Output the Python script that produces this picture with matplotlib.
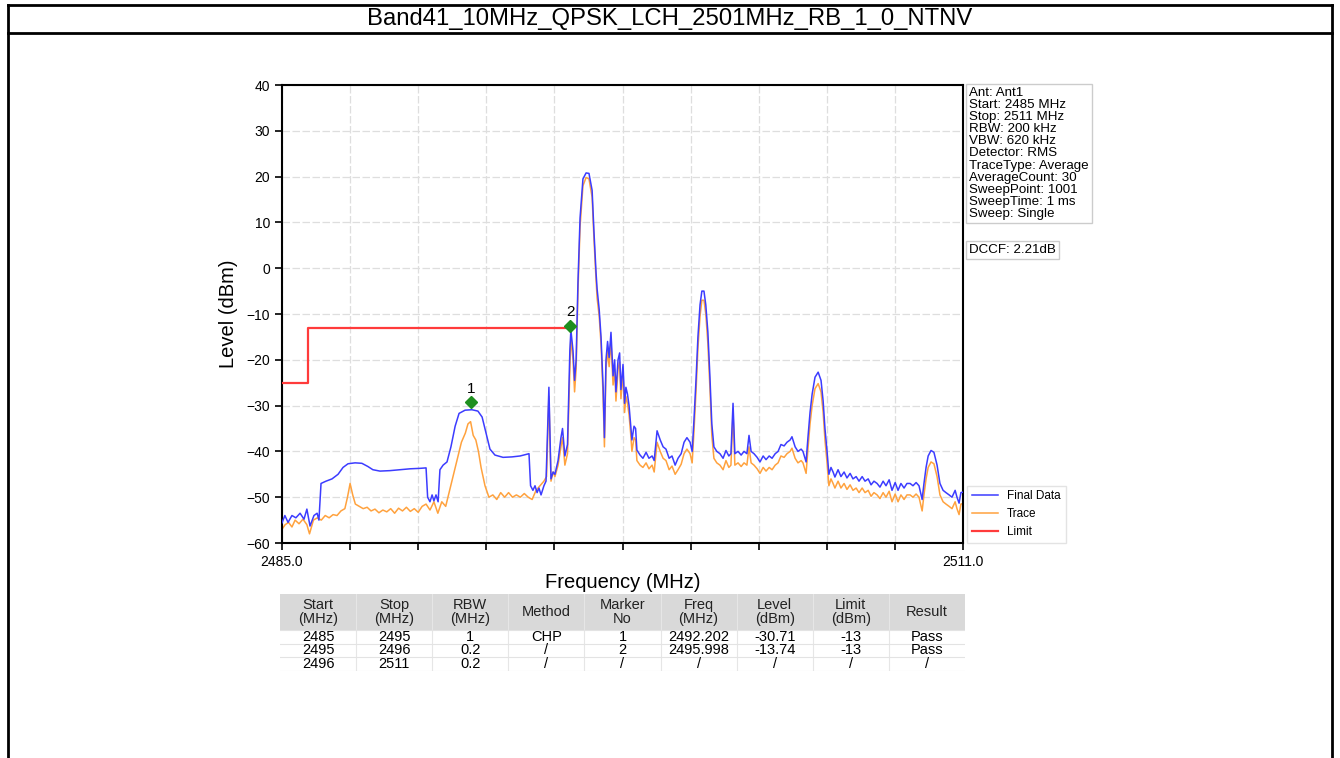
import numpy as np
import matplotlib
matplotlib.use("Agg")
import matplotlib.pyplot as plt
from matplotlib.lines import Line2D
from matplotlib.patches import Rectangle

plt.rcParams['font.family'] = ['Liberation Sans', 'DejaVu Sans']

title = "Band41_10MHz_QPSK_LCH_2501MHz_RB_1_0_NTNV"

# sweep data (MHz, dBm)
final_left_freq = [
    2485.00, 2485.11, 2485.23, 2485.38, 2485.53, 2485.69, 2485.84, 2485.95, 2486.07, 2486.22,
    2486.34, 2486.41, 2486.49, 2486.68, 2486.91, 2487.14, 2487.33, 2487.52, 2487.79, 2488.05,
    2488.28, 2488.47, 2488.74, 2489.12, 2489.51, 2489.89, 2490.27, 2490.50, 2490.56, 2490.65,
    2490.73, 2490.80, 2490.88, 2490.96, 2491.03, 2491.15, 2491.30, 2491.45, 2491.61, 2491.76,
    2491.99, 2492.25, 2492.48, 2492.64, 2492.79, 2492.94, 2493.13, 2493.44, 2493.78, 2494.09,
    2494.35, 2494.43, 2494.49, 2494.58, 2494.66, 2494.74, 2494.81, 2494.89, 2495.00, 2495.08,
    2495.19]
final_left_level = [
    -55.6, -54, -55.5, -54, -54.5, -53.5, -54.8, -52.6, -56.3, -54,
    -53.5, -55, -47, -46.5, -46, -45, -43.5, -42.7, -42.5, -42.6,
    -43.3, -44, -44.3, -44.2, -44.0, -43.8, -43.7, -43.6, -50, -51,
    -49.5, -50.8, -49.5, -51, -44, -43, -42.3, -39, -34.5, -31.7,
    -31, -30.9, -31.2, -32.5, -36, -39.5, -40.8, -41.3, -41.2, -41,
    -40.6, -40.5, -47.5, -48.5, -47.5, -49, -48, -49.5, -47.5, -46.5,
    -26]

trace_left_freq = [
    2485.00, 2485.12, 2485.25, 2485.38, 2485.50, 2485.65, 2485.80, 2485.95, 2486.05, 2486.20,
    2486.35, 2486.50, 2486.65, 2486.80, 2486.95, 2487.10, 2487.25, 2487.40, 2487.50, 2487.60,
    2487.70, 2487.80, 2487.95, 2488.10, 2488.25, 2488.40, 2488.55, 2488.70, 2488.85, 2489.00,
    2489.15, 2489.30, 2489.45, 2489.60, 2489.75, 2489.90, 2490.05, 2490.20, 2490.35, 2490.50,
    2490.65, 2490.80, 2490.95, 2491.10, 2491.25, 2491.40, 2491.55, 2491.70, 2491.85, 2492.00,
    2492.10, 2492.20, 2492.30, 2492.40, 2492.50, 2492.60, 2492.75, 2492.90, 2493.05, 2493.20,
    2493.35, 2493.50, 2493.65, 2493.80, 2493.95, 2494.10, 2494.25, 2494.40, 2494.55, 2494.70,
    2494.85, 2495.00, 2495.10, 2495.19]
trace_left_level = [
    -57, -56, -55.5, -56.5, -55, -55.8, -54.8, -56, -58, -55,
    -54.5, -55, -54, -54.5, -53.8, -54, -53, -52.5, -50, -47,
    -49.5, -51.5, -52, -52.5, -52.2, -53, -52.6, -53.4, -52.8, -53.2,
    -52.5, -53.5, -52.4, -53, -52.2, -53.1, -52.5, -53.3, -52, -51.5,
    -52.8, -51, -53.5, -51, -52, -48.5, -45, -41.5, -38, -36,
    -34, -33.5, -36.5, -37.5, -40, -43.5, -47.5, -50, -49.5, -50.5,
    -49, -50, -49, -50, -49.5, -50, -49.2, -50, -50.5, -48.5,
    -47.5, -46.5, -45.5, -28]

# both traces share these sweep points above 2495.2 MHz
right_freq = [
    2495.27, 2495.35, 2495.42, 2495.54, 2495.65, 2495.71, 2495.80, 2495.90, 2495.99, 2496.03,
    2496.11, 2496.17, 2496.23, 2496.30, 2496.38, 2496.49, 2496.61, 2496.72, 2496.84, 2496.91,
    2496.99, 2497.03, 2497.11, 2497.18, 2497.26, 2497.31, 2497.37, 2497.43, 2497.49, 2497.56,
    2497.64, 2497.70, 2497.75, 2497.83, 2497.89, 2497.94, 2498.02, 2498.08, 2498.13, 2498.19,
    2498.25, 2498.31, 2498.36, 2498.44, 2498.50, 2498.55, 2498.67, 2498.78, 2498.90, 2499.01,
    2499.13, 2499.21, 2499.32, 2499.44, 2499.55, 2499.66, 2499.78, 2499.89, 2500.01, 2500.12,
    2500.24, 2500.35, 2500.46, 2500.58, 2500.66, 2500.73, 2500.81, 2500.88, 2500.96, 2501.03,
    2501.11, 2501.18, 2501.26, 2501.34, 2501.41, 2501.49, 2501.60, 2501.72, 2501.84, 2501.95,
    2502.06, 2502.14, 2502.22, 2502.29, 2502.41, 2502.53, 2502.64, 2502.75, 2502.83, 2502.91,
    2503.02, 2503.14, 2503.25, 2503.37, 2503.48, 2503.60, 2503.71, 2503.83, 2503.94, 2504.05,
    2504.17, 2504.28, 2504.40, 2504.47, 2504.59, 2504.70, 2504.82, 2504.89, 2505.01, 2505.08,
    2505.16, 2505.24, 2505.35, 2505.47, 2505.58, 2505.66, 2505.73, 2505.81, 2505.88, 2505.96,
    2506.04, 2506.11, 2506.23, 2506.34, 2506.46, 2506.57, 2506.69, 2506.80, 2506.92, 2507.03,
    2507.15, 2507.26, 2507.38, 2507.49, 2507.60, 2507.72, 2507.83, 2507.95, 2508.06, 2508.18,
    2508.29, 2508.41, 2508.52, 2508.63, 2508.75, 2508.86, 2508.98, 2509.09, 2509.21, 2509.32,
    2509.44, 2509.51, 2509.59, 2509.67, 2509.78, 2509.89, 2510.01, 2510.12, 2510.24, 2510.35,
    2510.47, 2510.58, 2510.70, 2510.77, 2510.85, 2510.92, 2511.00]
final_right_level = [
    -46, -44.5, -45, -42, -37, -35, -41, -38.5, -18, -13.5,
    -18, -24.5, -20, -3, 11, 19.5, 20.8, 20.7, 17, 8,
    -1, -4.5, -9, -15, -26, -37, -20, -16, -19.5, -14,
    -23.5, -20, -27, -20, -18.5, -26.5, -21, -29.5, -26, -27.5,
    -30, -34, -37.5, -34.5, -35, -39.7, -40.8, -41.5, -40.2, -41.5,
    -41, -42, -35.5, -37.5, -39, -39.5, -41.5, -41, -43, -41.5,
    -40.5, -38, -37, -38, -40, -33, -24, -15, -8, -5,
    -5, -8, -14, -24, -34, -39, -40, -40.5, -41.5, -39.8,
    -41, -40.5, -29.5, -40.5, -40, -40.8, -40, -40.5, -36.5, -40,
    -40.5, -41.3, -42.3, -41, -41.8, -41, -41.5, -40.5, -40, -38.5,
    -38.8, -38, -37.5, -36.8, -39, -40, -39.5, -40, -42.3, -37,
    -31.5, -27.5, -23.8, -22.7, -24.5, -29, -35, -40, -45, -43.5,
    -44.5, -45.6, -44, -45.5, -44.5, -45.8, -44.8, -46, -45.5, -46.5,
    -45.5, -46.5, -46, -47.3, -46.5, -47, -47.8, -46.5, -47.5, -46.2,
    -48.5, -46.8, -48.5, -47, -48, -47, -47, -47.5, -46.8, -47.5,
    -50.5, -47, -43.5, -41, -39.8, -40.2, -43, -47, -48.5, -49,
    -49.5, -50, -48.5, -50, -51.3, -49, -48.9]
trace_right_level = [
    -46.5, -44.5, -45.5, -43, -39, -37, -43, -40.5, -22, -15,
    -20, -27, -22, -5, 9, 18, 19.8, 19.5, 15.5, 6.5,
    -2.5, -6.5, -10.5, -16.5, -28, -39, -22, -18, -21.5, -16,
    -25.5, -22, -29, -22, -20.5, -28.5, -23, -31.5, -28, -29.5,
    -32, -36, -40, -37, -37.5, -42, -43, -43.5, -42.5, -43.8,
    -43, -44.5, -38, -40, -41.5, -42, -44, -43.2, -45, -44,
    -42.8, -40.5, -39.5, -40.5, -42.5, -35.5, -26.5, -17.5, -10.5, -7,
    -7, -10, -16.5, -26.5, -36.5, -41.5, -42.5, -43, -44, -42,
    -43.5, -43, -31.5, -43, -42.5, -43.3, -42.5, -43, -39, -42.5,
    -43, -43.8, -44.8, -43.5, -44.3, -43.5, -44, -43, -42.5, -41,
    -41.3, -40.5, -40, -39.3, -41.5, -42.5, -42, -42.5, -44.8, -39.5,
    -34, -30, -26.3, -25.2, -27, -31.5, -37.5, -42.5, -47.5, -46,
    -47, -48, -46.5, -48, -47, -48.3, -47.3, -48.5, -48, -49,
    -48, -49, -48.5, -49.8, -49, -49.5, -50.3, -49, -50, -48.7,
    -51, -49.3, -51, -49.5, -50.5, -49.5, -49.5, -50, -49.3, -50,
    -53, -49.5, -46, -43.5, -42.3, -42.7, -45.5, -49.5, -51, -51.5,
    -52, -52.5, -51, -52.5, -53.8, -51.5, -51.4]

limit_freq = [2485, 2486, 2486, 2496]
limit_level = [-25, -25, -13, -13]

marker_no = ['1', '2']
marker_freq = [2492.202, 2495.998]
marker_level = [-29.3, -12.6]

info_lines = ["Ant: Ant1", "Start: 2485 MHz", "Stop: 2511 MHz", "RBW: 200 kHz",
              "VBW: 620 kHz", "Detector: RMS", "TraceType: Average",
              "AverageCount: 30", "SweepPoint: 1001", "SweepTime: 1 ms",
              "Sweep: Single"]
dccf_text = "DCCF: 2.21dB"

col_headers = ["Start\n(MHz)", "Stop\n(MHz)", "RBW\n(MHz)", "Method", "Marker\nNo",
               "Freq\n(MHz)", "Level\n(dBm)", "Limit\n(dBm)", "Result"]
table_rows = [
    ["2485", "2495", "1", "CHP", "1", "2492.202", "-30.71", "-13", "Pass"],
    ["2495", "2496", "0.2", "/", "2", "2495.998", "-13.74", "-13", "Pass"],
    ["2496", "2511", "0.2", "/", "/", "/", "/", "/", "/"],
]

W, H = 1340, 758
fig = plt.figure(figsize=(W / 100, H / 100), dpi=100)


def fx(px):
    return px / W


def fy(py):
    return 1 - py / H


# report frame around the chart
for x0, y0, x1, y1 in [(8, 5, 1332, 5), (8, 33, 1332, 33), (8, 5, 8, 758), (1332, 5, 1332, 758)]:
    fig.add_artist(Line2D([fx(x0), fx(x1)], [fy(y0), fy(y1)], color='black', lw=2.0))
fig.text(0.5, fy(19), title, ha='center', va='center', fontsize=17.2)

# main axes
ax = fig.add_axes([fx(282), fy(543), fx(963 - 282), (543 - 85) / H])
ax.plot(np.array(trace_left_freq + right_freq), np.array(trace_left_level + trace_right_level),
        color='#ffa23e', lw=1.1, label='Trace', zorder=2)
ax.plot(np.array(final_left_freq + right_freq), np.array(final_left_level + final_right_level),
        color='#3c3cff', lw=1.1, label='Final Data', zorder=3)
ax.plot(limit_freq, limit_level, color='#ff3b3b', lw=1.6, label='Limit', zorder=3)
ax.plot(marker_freq, marker_level, 'D', color='#1f8f1f', ms=6.5, zorder=5)
for no, f, lv in zip(marker_no, marker_freq, marker_level):
    ax.text(f, lv + 1.4, no, ha='center', va='bottom', fontsize=11)

ax.set_xlim(2485, 2511)
ax.set_ylim(-60, 40)
xt = np.linspace(2485, 2511, 11)
ax.set_xticks(xt)
ax.set_xticklabels(['2485.0'] + [''] * 9 + ['2511.0'])
ax.set_yticks(np.arange(-60, 41, 10))
ax.tick_params(labelsize=10, length=5, width=1.2, direction='out')
ax.grid(True, color='#dedede', ls=(0, (6, 2)), lw=0.9)
for s in ax.spines.values():
    s.set_linewidth(1.5)
ax.set_xlabel("Frequency (MHz)", fontsize=14.5, labelpad=3)
ax.set_ylabel("Level (dBm)", fontsize=14.5, labelpad=6)

h, l = ax.get_legend_handles_labels()
order = [l.index('Final Data'), l.index('Trace'), l.index('Limit')]
ax.legend([h[i] for i in order], [l[i] for i in order], loc='lower left',
          bbox_to_anchor=(1.006, 0.0), borderaxespad=0, fontsize=8.5,
          handlelength=2.2, edgecolor='#dddddd', fancybox=False)

box = dict(boxstyle='square,pad=0.25', facecolor='white', edgecolor='#cccccc', lw=1)
fig.text(fx(969), fy(87), "\n".join(info_lines), ha='left', va='top', fontsize=9.6,
         linespacing=1.01, bbox=box)
fig.text(fx(969), fy(250), dccf_text, ha='left', va='center', fontsize=9.6, bbox=box)

# result table
tab = fig.add_axes([fx(280), fy(671), fx(685), 77 / H])
tab.set_xlim(0, 9)
tab.set_ylim(77, 0)
tab.axis('off')
tab.add_patch(Rectangle((0, 0), 9, 36, facecolor='#d9d9d9', edgecolor='none'))
for j in range(1, 9):
    tab.plot([j, j], [0, 77], color='#e6e6e6', lw=0.8)
row_edges = [36, 49.7, 63.3, 77]
for yv in row_edges:
    tab.plot([0, 9], [yv, yv], color='#e3e3e3', lw=0.8)
tfont = ['Liberation Sans Narrow', 'Liberation Sans']
for j, hd in enumerate(col_headers):
    tab.text(j + 0.5, 18, hd, ha='center', va='center', fontsize=10.5, linespacing=0.92,
             family=tfont, color='#222222')
for i, row in enumerate(table_rows):
    yc = (row_edges[i] + row_edges[i + 1]) / 2
    for j, v in enumerate(row):
        tab.text(j + 0.5, yc, v, ha='center', va='center', fontsize=10.5, family=tfont)

fig.savefig("out.png", dpi=100)
